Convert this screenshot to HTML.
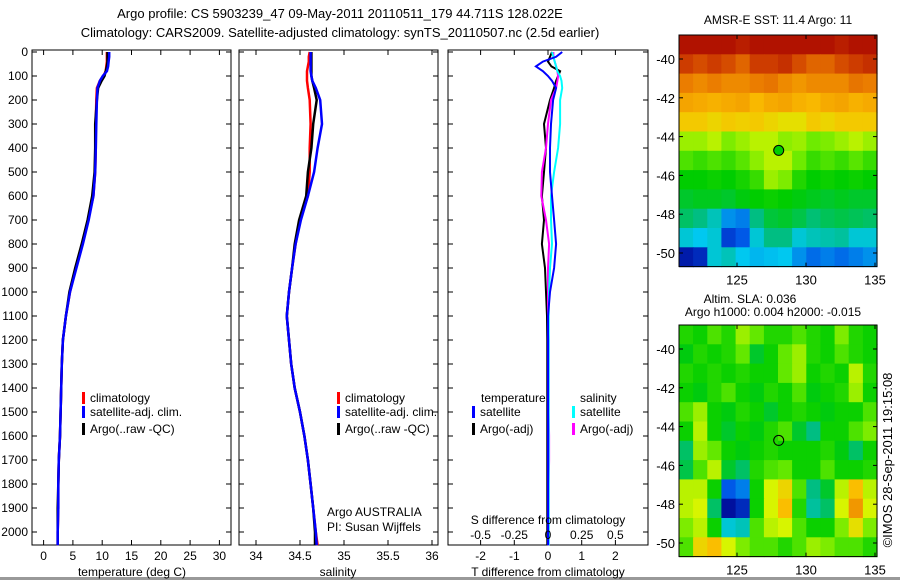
<!DOCTYPE html>
<html><head><meta charset="utf-8"><style>
body{margin:0;background:#fff;width:900px;height:580px;overflow:hidden}
svg{font-family:"Liberation Sans",sans-serif;font-size:12px}
</style></head><body>
<svg id="c" width="900" height="580" xmlns="http://www.w3.org/2000/svg">
<rect x="0" y="577" width="900" height="3" fill="#999"/>
<text x="340" y="18" text-anchor="middle" font-size="13">Argo profile: CS 5903239_47 09-May-2011 20110511_179 44.711S 128.022E</text>
<text x="340" y="37" text-anchor="middle" font-size="13">Climatology: CARS2009. Satellite-adjusted climatology: synTS_20110507.nc (2.5d earlier)</text>
</svg>
<script>
const depths=[0,20,40,60,80,100,120,150,200,300,400,500,600,700,800,900,1000,1100,1200,1300,1400,1500,1600,1700,1800,1900,2000,2055];
const tempClim=[10.8,10.8,10.8,10.7,10.6,10.2,9.6,9.1,9.0,8.9,8.9,8.8,8.5,7.6,6.6,5.5,4.5,3.8,3.3,3.1,3.0,2.9,2.8,2.6,2.5,2.5,2.4,2.4];
const tempSat=[11.2,11.2,11.1,11.0,10.8,10.1,9.6,9.2,9.1,9.0,8.9,8.8,8.5,7.7,6.7,5.6,4.5,3.8,3.3,3.1,3.0,2.9,2.8,2.6,2.5,2.5,2.4,2.4];
const tempArgo=[10.9,10.9,10.9,10.8,10.6,10.4,9.9,9.3,9.1,8.8,8.8,8.7,8.3,7.5,6.5,5.4,4.4,3.8,3.3,3.1,3.0,2.9,2.8,2.6,2.5,2.4,2.4,2.4];
const salClim=[34.61,34.60,34.60,34.59,34.58,34.58,34.58,34.59,34.61,34.62,34.61,34.61,34.59,34.5,34.45,34.41,34.375,34.35,34.375,34.4,34.44,34.5,34.55,34.59,34.62,34.65,34.68,34.7];
const salSat=[34.62,34.62,34.62,34.62,34.62,34.63,34.64,34.68,34.73,34.75,34.7,34.66,34.59,34.51,34.45,34.41,34.375,34.35,34.375,34.4,34.44,34.5,34.55,34.59,34.62,34.65,34.68,34.69];
const salArgo=[34.63,34.63,34.63,34.63,34.63,34.63,34.64,34.66,34.69,34.65,34.63,34.59,34.57,34.49,34.44,34.41,34.375,34.35,34.375,34.4,34.44,34.5,34.55,34.59,34.62,34.65,34.67,34.67];
const dTsat=[0.42,0.24,-0.15,-0.36,-0.15,0,0.12,0.24,0.15,0.09,0.06,0.06,0.12,0.18,0.24,0.18,0.06,0,0,0,0,0,0,0,0,0,0,0];
const dTargo=[0.12,0.06,0,0.1,0.36,0.3,0.24,0.18,0.06,-0.12,-0.06,-0.12,-0.18,-0.12,-0.18,-0.09,-0.06,-0.03,-0.02,-0.02,-0.02,-0.02,-0.02,-0.02,-0.02,-0.02,-0.02,-0.02];
const dSsat=[0.03,0.04,0.05,0.06,0.07,0.09,0.1,0.105,0.09,0.09,0.075,0.045,0.022,0.022,0.03,0.015,0.008,0.005,0.005,0.005,0.005,0.005,0.005,0.005,0.005,0.005,0.005,0.005];
const dSargo=[0.04,0.04,0.05,0.06,0.07,0.075,0.07,0.06,0.022,0,-0.015,-0.045,-0.05,-0.015,0.008,0,0,0,0.005,0.005,0.005,0.005,0.008,0.008,0.005,0.005,0.005,0.005];
const depthTicks=[0,100,200,300,400,500,600,700,800,900,1000,1100,1200,1300,1400,1500,1600,1700,1800,1900,2000];
const tempTicks=[0,5,10,15,20,25,30];
const salTicks=[34,34.5,35,35.5,36];
const tDiffTicks=[-2,-1,0,1,2];
const sDiffTicks=[-0.5,-0.25,0,0.25,0.5];
const latTicks=[-40,-42,-44,-46,-48,-50];
const lonTicks=[125,130,135];
const sstGrid=[
[.97,.97,.97,.97,.95,.97,.97,.97,.97,.97,.97,.95,.97,.97],
[.9,.88,.9,.88,.85,.9,.9,.92,.88,.85,.85,.88,.9,.92],
[.82,.8,.82,.8,.8,.82,.83,.8,.78,.8,.8,.8,.83,.82],
[.76,.75,.74,.75,.76,.73,.75,.76,.74,.73,.75,.76,.74,.75],
[.7,.7,.68,.7,.69,.7,.68,.66,.66,.7,.68,.7,.7,.7],
[.58,.58,.6,.56,.58,.6,.6,.57,.58,.55,.56,.58,.6,.58],
[.52,.5,.52,.5,.53,.57,.6,.6,.55,.5,.52,.5,.53,.5],
[.45,.45,.46,.45,.47,.5,.58,.56,.48,.45,.46,.45,.46,.45],
[.42,.43,.43,.42,.44,.45,.46,.45,.44,.43,.42,.43,.42,.42],
[.38,.36,.32,.22,.2,.36,.41,.42,.4,.37,.39,.4,.39,.38],
[.3,.28,.3,.12,.16,.3,.36,.36,.3,.32,.33,.34,.3,.3],
[.05,.08,.3,.32,.28,.26,.27,.28,.22,.18,.2,.18,.2,.22]];
const slaGrid=[
[.48,.46,.52,.48,.58,.54,.48,.48,.52,.48,.46,.56,.48,.46],
[.44,.48,.46,.48,.54,.42,.46,.54,.58,.48,.46,.52,.48,.46],
[.48,.46,.48,.46,.48,.46,.46,.54,.58,.46,.48,.46,.6,.48],
[.46,.44,.48,.52,.46,.44,.48,.46,.52,.44,.46,.48,.58,.46],
[.52,.58,.46,.44,.48,.46,.42,.46,.48,.46,.44,.46,.46,.52],
[.46,.6,.46,.42,.46,.44,.48,.52,.42,.36,.46,.46,.52,.56],
[.38,.58,.54,.46,.44,.46,.48,.46,.46,.46,.48,.44,.38,.46],
[.4,.52,.6,.42,.38,.48,.52,.54,.46,.46,.52,.46,.46,.48],
[.6,.6,.46,.16,.2,.46,.62,.68,.52,.36,.42,.6,.72,.6],
[.6,.62,.38,.03,.08,.46,.62,.72,.48,.34,.38,.62,.78,.62],
[.56,.6,.46,.3,.32,.52,.6,.62,.52,.46,.46,.56,.66,.56],
[.52,.68,.72,.62,.56,.52,.52,.48,.52,.58,.56,.52,.52,.48]];

const NS='http://www.w3.org/2000/svg';
const svg=document.getElementById('c');
function el(tag,attrs,parent,text){const e=document.createElementNS(NS,tag);for(const k in attrs)e.setAttribute(k,attrs[k]);if(text!==undefined)e.textContent=text;(parent||svg).appendChild(e);return e;}
const Y0=52,YS=0.24,PT=50,PB=545;
const yDepth=d=>Y0+d*YS;
const cmapStops=[[0,[0,0,140]],[0.15,[0,80,230]],[0.28,[0,200,240]],[0.36,[0,190,130]],[0.45,[0,205,0]],[0.55,[110,235,0]],[0.62,[215,245,0]],[0.72,[250,190,0]],[0.82,[235,125,0]],[0.9,[205,60,0]],[1,[165,0,0]]];
function cmap(v){v=Math.max(0,Math.min(1,v));for(let i=1;i<cmapStops.length;i++){const [p1,c1]=cmapStops[i];if(v<=p1){const [p0,c0]=cmapStops[i-1];const t=(v-p0)/(p1-p0);return 'rgb('+c0.map((a,k)=>Math.round(a+(c1[k]-a)*t)).join(',')+')';}}return 'rgb(165,0,0)';}

function panel(name,x0,x1,xs,ticks,fmt,labelY){
  const g=el('g',{},svg);
  
  
  const fr=el('rect',{x:x0,y:PT,width:x1-x0,height:PB-PT,fill:'none',stroke:'#000','stroke-width':1},g);
  
  
  depthTicks.forEach(d=>{const y=yDepth(d);
    el('line',{x1:x0,x2:x0+5,y1:y,y2:y,stroke:'#000'},g);el('line',{x1:x1,x2:x1-5,y1:y,y2:y,stroke:'#000'},g);
    if(labelY){const t=el('text',{x:x0-4,y:y+4,'text-anchor':'end'},g,String(d));
      
      }
  });
  ticks.forEach(v=>{const x=xs(v);
    el('line',{x1:x,x2:x,y1:PB,y2:PB-5,stroke:'#000'},g);el('line',{x1:x,x2:x,y1:PT,y2:PT+5,stroke:'#000'},g);
    const t=el('text',{x:x,y:560,'text-anchor':'middle'},g,fmt(v));
    
    
  });
  return g;
}
function line(g,xs,vals,color,name,w){
  const pts=vals.map((v,i)=>xs(v).toFixed(1)+','+yDepth(depths[i]).toFixed(1)).join(' ');
  const p=el('polyline',{points:pts,fill:'none',stroke:color,'stroke-width':w||2.5},g);
  
  
}
function legend(g,x,y,color,label){
  el('rect',{x:x,y:y-10,width:3,height:12,fill:color},g);
  const t=el('text',{x:x+8,y:y},g,label);
  
  
}
function txt(x,y,s,name,anchor){const t=el('text',{x:x,y:y,'text-anchor':anchor||'start'},svg,s);
  
  return t;}

const xT=v=>43.6+v*5.86;
const gT=panel('temperature-panel',32,231,xT,tempTicks,String,true);
line(gT,xT,tempClim,'#f00','temp-climatology-line');
line(gT,xT,tempArgo,'#000','temp-argo-line');
line(gT,xT,tempSat,'#00f','temp-satellite-line');
legend(gT,82,402,'#f00','climatology');legend(gT,82,416,'#00f','satellite-adj. clim.');legend(gT,82,433,'#000','Argo(..raw -QC)');
txt(132,576,'temperature (deg C)','temperature-axis-title','middle');

const xS=v=>256+(v-34)*88;
const gS=panel('salinity-panel',239,438,xS,salTicks,String,false);
line(gS,xS,salClim,'#f00','sal-climatology-line');
line(gS,xS,salArgo,'#000','sal-argo-line');
line(gS,xS,salSat,'#00f','sal-satellite-line');
legend(gS,337,402,'#f00','climatology');legend(gS,337,416,'#00f','satellite-adj. clim.');legend(gS,337,433,'#000','Argo(..raw -QC)');
txt(338,576,'salinity','salinity-axis-title','middle');
txt(327,516,'Argo AUSTRALIA','institution-label');
txt(327,531,'PI: Susan Wijffels','pi-label');

const xD=v=>548+v*33.7;
const xDS=v=>548+v*134.8;
const gD=panel('difference-panel',448,648,xD,tDiffTicks,String,false);
line(gD,xD,dTargo,'#000','t-diff-argo-line',2);
line(gD,xDS,dSargo,'#f0f','s-diff-argo-line',2);
line(gD,xDS,dSsat,'#0ff','s-diff-satellite-line',2);
line(gD,xD,dTsat,'#00f','t-diff-satellite-line',2);
sDiffTicks.forEach(v=>{txt(xDS(v),539,String(v),'s-diff-tick-label','middle');});
txt(548,524,'S difference from climatology','s-diff-axis-title','middle');
txt(548,576,'T difference from climatology','t-diff-axis-title','middle');
txt(481,402,'temperature','legend-temperature-heading');txt(580,402,'salinity','legend-salinity-heading');
legend(gD,472,416,'#00f','satellite');legend(gD,472,433,'#000','Argo(-adj)');
legend(gD,572,416,'#0ff','satellite');legend(gD,572,433,'#f0f','Argo(-adj)');

function map(name,top,grid,lat40y){
  const g=el('g',{},svg);
  
  
  const L=679,R=877,lonX=v=>737+(v-125)*13.8,latY=v=>lat40y+(-40-v)*19.4;
  const bottom=latY(-50.7);
  const rows=grid.length,cols=grid[0].length;
  const cw=(R-L)/cols,ch=(bottom-top)/rows;
  grid.forEach((row,r)=>row.forEach((v,c)=>{
    const cell=el('rect',{x:(L+c*cw).toFixed(1),y:(top+r*ch).toFixed(1),width:(cw+0.6).toFixed(1),height:(ch+0.6).toFixed(1),fill:cmap(v)},g);
    
    
  }));
  el('rect',{x:L,y:top,width:R-L,height:bottom-top,fill:'none',stroke:'#000'},g);
  latTicks.forEach(v=>{const y=latY(v);el('line',{x1:L,x2:L+4,y1:y,y2:y,stroke:'#000'},g);el('line',{x1:R,x2:R-4,y1:y,y2:y,stroke:'#000'},g);
    const t=el('text',{x:L-4,y:y+5,'text-anchor':'end','font-size':13},g,String(v));
    
    });
  lonTicks.forEach(v=>{const x=lonX(v);el('line',{x1:x,x2:x,y1:bottom,y2:bottom-4,stroke:'#000'},g);el('line',{x1:x,x2:x,y1:top,y2:top+4,stroke:'#000'},g);
    const t=el('text',{x:x,y:bottom+18,'text-anchor':'middle','font-size':13},g,String(v));
    
    });
  const c=el('circle',{cx:lonX(128.022),cy:latY(-44.711),r:5,fill:name==='sst-map'?'#0c0':'none',stroke:'#000'},g);
  
  
}
map('sst-map',35,sstGrid,59);
map('sla-map',325,slaGrid,349);
txt(778,24,'AMSR-E SST: 11.4 Argo: 11','sst-map-title','middle');
txt(750,303,'Altim. SLA: 0.036','sla-map-title','middle');
txt(773,316,'Argo h1000: 0.004 h2000: -0.015','sla-map-subtitle','middle');
const r=txt(0,0,'©IMOS 28-Sep-2011 19:15:08','imos-timestamp','middle');
r.setAttribute('transform','translate(892,460) rotate(-90)');
r.setAttribute('font-size','13');
</script>
</body></html>
